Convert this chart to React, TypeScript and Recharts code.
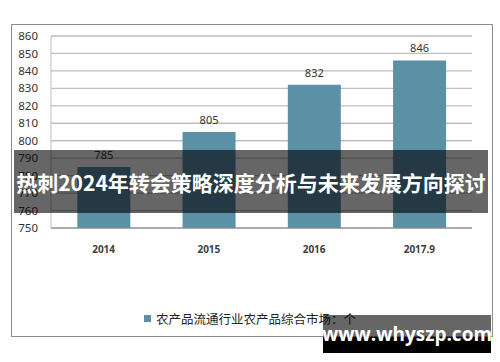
import { BarChart, Bar, XAxis, YAxis, CartesianGrid, Legend, LabelList } from 'recharts';

const years = ['2014', '2015', '2016', '2017.9'];
const marketCounts = [785, 805, 832, 846];
const yTicks = [750, 760, 770, 780, 790, 800, 810, 820, 830, 840, 850, 860];
const seriesName = '农产品流通行业农产品综合市场：个';
const bannerText = '热刺2024年转会策略深度分析与未来发展方向探讨';
const siteText = 'www.whyszp.com';

const data = years.map((y, i) => ({ name: y, value: marketCounts[i] }));

const BAR_COLOR = '#5b90a7';

const LegendBox = () => (
  <div style={{ display: 'flex', justifyContent: 'center', alignItems: 'center', fontFamily: '"Noto Sans CJK SC", sans-serif', fontSize: 12.5, color: '#222' }}>
    <span style={{ display: 'inline-block', width: 7, height: 7, background: BAR_COLOR, marginRight: 5 }} />
    <span>{seriesName}</span>
  </div>
);

const App = () => {
  return (
    <div style={{ position: 'fixed', left: 0, top: 0, width: 500, height: 362, background: '#fff', overflow: 'hidden' }}>
      <div style={{ position: 'absolute', left: 11, top: 24, width: 480, height: 311, border: '1px solid #8c8c8c' }} />
      <div style={{ position: 'absolute', left: 0, top: 0 }}>
        <BarChart width={500} height={362} data={data} margin={{ top: 36, right: 28, left: 11, bottom: 85 }} barCategoryGap="25%">
          <CartesianGrid vertical={false} stroke="#bdbdbd" strokeWidth={1.3} />
          <XAxis
            dataKey="name"
            tickSize={0}
            tickMargin={18}
            axisLine={{ stroke: '#8a8a8a' }}
            tick={{ fill: '#404040', fontSize: 10, fontWeight: 'bold', fontFamily: '"Noto Sans", sans-serif' }}
            height={30}
          />
          <YAxis
            domain={[750, 860]}
            ticks={yTicks}
            interval={0}
            width={40}
            tickSize={0}
            tickMargin={13}
            axisLine={{ stroke: '#bdbdbd' }}
            tick={{ fill: '#333', fontSize: 11.5, fontFamily: '"Noto Sans", sans-serif' }}
            allowDataOverflow
          />
          <Legend content={() => <LegendBox />} wrapperStyle={{ position: 'absolute', top: 309, left: 0, width: 500 }} />
          <Bar dataKey="value" fill={BAR_COLOR} isAnimationActive={false} name={seriesName}>
            <LabelList dataKey="value" position="top" offset={8} style={{ fill: '#333', fontSize: 11, fontFamily: '"Noto Sans", sans-serif' }} />
          </Bar>
        </BarChart>
      </div>
      <div style={{ position: 'absolute', left: 14, top: 150, width: 474, height: 63, background: 'rgba(0,0,0,0.6)', display: 'flex', alignItems: 'center', justifyContent: 'center', color: '#fff', fontFamily: '"Noto Sans CJK SC", sans-serif', fontWeight: 'bold', fontSize: 21, whiteSpace: 'nowrap' }}>
        {bannerText}
      </div>
      <div style={{ position: 'absolute', left: 323, top: 315, width: 168, height: 22, background: 'rgba(0,0,0,0.6)' }} />
      <div style={{ position: 'absolute', left: 323, top: 337, width: 168, height: 16, background: '#000' }} />
      <div style={{ position: 'absolute', left: 323, top: 315, width: 168, height: 38, display: 'flex', alignItems: 'center', justifyContent: 'center', color: '#fff', fontFamily: '"Open Sans", sans-serif', fontWeight: 'bold', fontSize: 19 }}>
        {siteText}
      </div>
    </div>
  );
};

export default App;
